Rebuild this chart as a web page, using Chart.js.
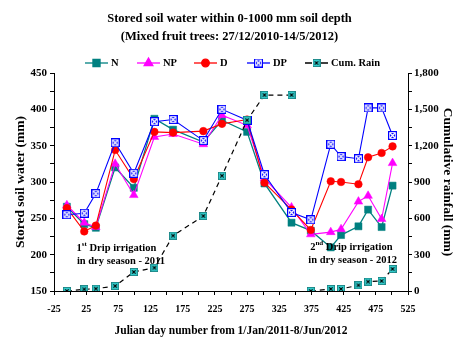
<!DOCTYPE html>
<html>
<head>
<meta charset="utf-8">
<script src="https://cdn.jsdelivr.net/npm/chart.js@4.4.1/dist/chart.umd.min.js"></script>
<style>
  html, body { margin: 0; padding: 0; background: #fff; }
</style>
</head>
<body>
<canvas id="chart" width="459" height="338"></canvas>
<script>
// Julian day of each measurement (shared by every series)
const days = [-5, 22, 40, 70, 99, 131, 160, 207, 236, 275, 302, 344, 374, 405, 421, 448, 463, 484, 501];

// stored soil water (mm)
const soilN  = [266, 242, 237, 320, 292, 387, 372, 355, 385, 369, 298, 244, 233, 210, 227, 239, 262, 238, 295];
const soilNP = [268, 244, 238, 325, 282, 362, 366, 352, 392, 378, 305, 265, 228, 231, 235, 273, 281, 249, 326];
const soilD  = [264, 232, 240, 344, 304, 369, 368, 370, 380, 386, 299, 262, 234, 301, 300, 297, 334, 340, 349];
const soilDP = [255, 257, 284, 354, 312, 383, 386, 357, 400, 385, 310, 258, 248, 352, 335, 332, 402, 402, 364];

// cumulative rainfall (mm), restarts in 2012
const cumRain = [0, 14, 19, 41, 157, 192, 457, 619, 952, 1410, 1618, 1618, 0, 17, 17, 47, 77, 83, 182];

const SERIF = '"Liberation Serif", "Times New Roman", serif';

function dpMarker() {
  const c = document.createElement("canvas");
  c.width = 9; c.height = 9;
  const g = c.getContext("2d");
  g.fillStyle = "#0000ff";
  g.fillRect(0, 0, 9, 9);
  g.strokeStyle = "#ffffff";
  g.lineWidth = 1.4;
  g.beginPath();
  g.moveTo(2, 2); g.lineTo(7, 7);
  g.moveTo(7, 2); g.lineTo(2, 7);
  g.stroke();
  g.strokeStyle = "#ffffff";
  g.lineWidth = 0.8;
  g.strokeRect(1.6, 1.6, 5.8, 5.8);
  return c;
}

function rainMarker() {
  const c = document.createElement("canvas");
  c.width = 8; c.height = 8;
  const g = c.getContext("2d");
  g.fillStyle = "#33cccc";
  g.fillRect(0, 0, 8, 8);
  g.strokeStyle = "#1d7f7f";
  g.lineWidth = 0.8;
  g.strokeRect(0.4, 0.4, 7.2, 7.2);
  g.strokeStyle = "#000";
  g.lineWidth = 1.1;
  g.beginPath();
  g.moveTo(2.3, 2.3); g.lineTo(5.7, 5.7);
  g.moveTo(5.7, 2.3); g.lineTo(2.3, 5.7);
  g.stroke();
  return c;
}

const dpImg = dpMarker();
const rainImg = rainMarker();

const pts = vals => days.map((d, i) => ({ x: d, y: vals[i] }));

const legendItems = [
  { text: "N", color: "#008080", style: "rect", radius: 5, left: 85 },
  { text: "NP", color: "#ff00ff", style: "triangle", radius: 5, left: 137 },
  { text: "D", color: "#ff0000", style: "circle", radius: 3.8, left: 194 },
  { text: "DP", color: "#0000ff", style: dpImg, radius: 4, left: 247 },
  { text: "Cum. Rain", color: "#000", style: rainImg, radius: 4, left: 305, dash: true }
];

const customLegend = {
  id: "customLegend",
  afterDraw(chart) {
    const ctx = chart.ctx;
    const y = 63;
    ctx.save();
    ctx.font = `bold 10.5px ${SERIF}`;
    ctx.textBaseline = "middle";
    legendItems.forEach(it => {
      const x = it.left;
      ctx.strokeStyle = it.color;
      ctx.lineWidth = 1.3;
      ctx.beginPath();
      if (it.dash) {
        ctx.moveTo(x, y); ctx.lineTo(x + 7, y);
        ctx.moveTo(x + 16, y); ctx.lineTo(x + 23, y);
      } else {
        ctx.moveTo(x, y); ctx.lineTo(x + 23, y);
      }
      ctx.stroke();
      ctx.fillStyle = it.color;
      Chart.helpers.drawPoint(ctx, { pointStyle: it.style, radius: it.radius, rotation: 0, borderWidth: 1 }, x + 11.5, y);
      ctx.fillStyle = "#000";
      ctx.fillText(it.text, x + 26, y + 0.5);
    });
    ctx.restore();
  }
};

const notes = [
  { base: "1", sup: "st", rest: " Drip irrigation", line2: "in dry season - 2011", day: 72, soil: 209, day2: 79 },
  { base: "2", sup: "nd", rest: " Drip irrigation", line2: "in dry season - 2012", day: 437, soil: 210.5, day2: 439 }
];

const notePlugin = {
  id: "notePlugin",
  afterDatasetsDraw(chart) {
    const { ctx, scales: { x, y } } = chart;
    ctx.save();
    ctx.fillStyle = "#000";
    ctx.textBaseline = "middle";
    notes.forEach(n => {
      const cy = y.getPixelForValue(n.soil);
      const big = `bold 10.5px ${SERIF}`;
      const small = `bold 7px ${SERIF}`;
      ctx.font = big;
      const w1 = ctx.measureText(n.base).width;
      const w3 = ctx.measureText(n.rest).width;
      ctx.font = small;
      const w2 = ctx.measureText(n.sup).width;
      let px = x.getPixelForValue(n.day) - (w1 + w2 + w3) / 2;
      ctx.textAlign = "left";
      ctx.font = big;
      ctx.fillText(n.base, px, cy);
      px += w1;
      ctx.font = small;
      ctx.fillText(n.sup, px, cy - 4);
      px += w2;
      ctx.font = big;
      ctx.fillText(n.rest, px, cy);
      ctx.textAlign = "center";
      ctx.fillText(n.line2, x.getPixelForValue(n.day2), cy + 13);
    });
    ctx.restore();
  }
};

const axisGrid = { drawOnChartArea: false, drawTicks: true, tickLength: 4, color: "#000", tickColor: "#000", lineWidth: 1 };

new Chart(document.getElementById("chart"), {
  type: "line",
  data: {
    datasets: [
      {
        label: "Cum. Rain", data: pts(cumRain), yAxisID: "y1", order: 0,
        borderColor: "#000", borderWidth: 1.2, borderDash: [5, 4],
        pointStyle: rainImg, pointRadius: 4,
        segment: { borderColor: c => c.p1.parsed.y < c.p0.parsed.y ? "rgba(0,0,0,0)" : "#000" }
      },
      {
        label: "DP", data: pts(soilDP), yAxisID: "y", order: 1,
        borderColor: "#0000ff", borderWidth: 1.1, pointStyle: dpImg, pointRadius: 4
      },
      {
        label: "D", data: pts(soilD), yAxisID: "y", order: 2,
        borderColor: "#ff0000", backgroundColor: "#ff0000", borderWidth: 1.1,
        pointStyle: "circle", pointRadius: 3.8, pointBorderWidth: 0.5
      },
      {
        label: "NP", data: pts(soilNP), yAxisID: "y", order: 3,
        borderColor: "#ff00ff", backgroundColor: "#ff00ff", borderWidth: 1.1,
        pointStyle: "triangle", pointRadius: 5, pointBorderWidth: 0.5
      },
      {
        label: "N", data: pts(soilN), yAxisID: "y", order: 4,
        borderColor: "#008080", backgroundColor: "#008080", borderWidth: 1.3,
        pointStyle: "rect", pointRadius: 5, pointBorderWidth: 0.5
      }
    ]
  },
  options: {
    responsive: false,
    animation: false,
    events: [],
    layout: { padding: 0 },
    elements: { line: { tension: 0 } },
    plugins: {
      legend: { display: false },
      tooltip: { enabled: false },
      title: {
        display: true,
        text: "Stored soil water within 0-1000 mm soil depth",
        color: "#000",
        font: { family: SERIF, size: 12.5, weight: "bold", lineHeight: 1.2 },
        padding: { top: 11, bottom: 3 }
      },
      subtitle: {
        display: true,
        text: "(Mixed fruit trees: 27/12/2010-14/5/2012)",
        color: "#000",
        font: { family: SERIF, size: 12.5, weight: "bold", lineHeight: 1.2 },
        padding: { top: 0, bottom: 29 }
      }
    },
    scales: {
      x: {
        type: "linear",
        min: -25, max: 525,
        grid: axisGrid,
        border: { color: "#000", width: 1 },
        ticks: {
          stepSize: 25, autoSkip: false, maxRotation: 0, padding: 8,
          color: "#000", font: { family: SERIF, size: 10, weight: "bold" },
          callback: v => ((v + 25) % 50 === 0 ? String(v) : "")
        },
        title: {
          display: true, text: "Julian day number from 1/Jan/2011-8/Jun/2012", color: "#000",
          font: { family: SERIF, size: 11.5, weight: "bold" }, padding: { top: 0, bottom: 0 }
        },
        afterFit: s => { s.height = 47; }
      },
      y: {
        position: "left",
        min: 150, max: 450,
        grid: axisGrid,
        border: { color: "#000", width: 1 },
        ticks: {
          stepSize: 25, autoSkip: false, padding: 3,
          color: "#000", font: { family: SERIF, size: 11, weight: "bold" },
          callback: v => (v % 50 === 0 ? String(v) : "")
        },
        title: {
          display: true, text: "Stored soil water (mm)", color: "#000",
          font: { family: SERIF, size: 13.5, weight: "bold" }, padding: { top: 12, bottom: 0 }
        },
        afterFit: s => { s.width = 54; }
      },
      y1: {
        position: "right",
        min: 0, max: 1800,
        grid: axisGrid,
        border: { color: "#000", width: 1 },
        ticks: {
          stepSize: 150, autoSkip: false, padding: 2,
          color: "#000", font: { family: SERIF, size: 11, weight: "bold" },
          callback: v => (v % 300 === 0 ? v.toLocaleString("en-US") : "")
        },
        title: {
          display: true, text: "Cumulative rainfall (mm)", color: "#000",
          font: { family: SERIF, size: 13.5, weight: "bold" }, padding: { top: 3, bottom: 0 }
        },
        afterFit: s => { s.width = 51; }
      }
    }
  },
  plugins: [customLegend, notePlugin]
});
</script>
</body>
</html>
